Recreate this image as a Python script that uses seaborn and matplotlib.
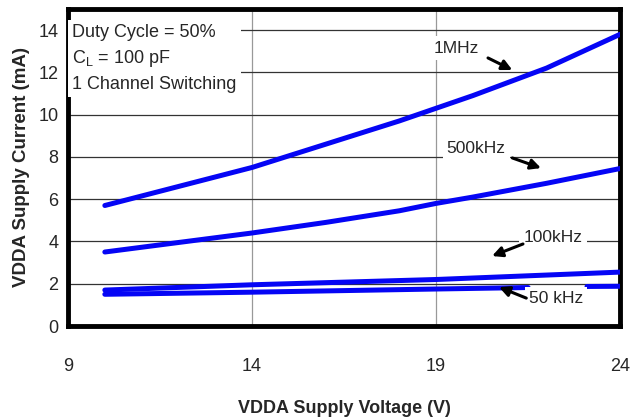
import pandas as pd
import matplotlib.pyplot as plt
import seaborn as sns

# values
volts_1m = [10, 12, 14, 16, 18, 19, 20, 22, 24]
amps_1m = [5.7, 6.6, 7.5, 8.6, 9.7, 10.3, 10.9, 12.2, 13.8]
volts_500k = [10, 12, 14, 16, 18, 19, 20, 22, 24]
amps_500k = [3.5, 3.95, 4.4, 4.9, 5.45, 5.8, 6.1, 6.75, 7.45]
volts_100k = [10, 14, 19, 24]
amps_100k = [1.7, 1.95, 2.2, 2.55]
volts_50k_a = [10, 14, 19, 21.5]
amps_50k_a = [1.5, 1.6, 1.75, 1.82]
volts_50k_b = [23.1, 24]
amps_50k_b = [1.87, 1.88]

x_ticks = [9, 14, 19, 24]
y_ticks = [0, 2, 4, 6, 8, 10, 12, 14]

sns.set_theme(style="white")
plt.rcParams['font.family'] = ['Liberation Sans', 'DejaVu Sans']

fig = plt.figure(figsize=(6.31, 4.2), dpi=100)
ax = fig.add_axes([0.1078, 0.2238, 0.875, 0.755])

blue = "#0505F5"
series = [
    (volts_1m, amps_1m),
    (volts_500k, amps_500k),
    (volts_100k, amps_100k),
    (volts_50k_a, amps_50k_a),
    (volts_50k_b, amps_50k_b),
]
for xs, ys in series:
    df = pd.DataFrame({"v": xs, "i": ys})
    sns.lineplot(data=df, x="v", y="i", ax=ax, color=blue, linewidth=3.6,
                 zorder=3, estimator=None, sort=False)

ax.set_xlim(9, 24)
ax.set_ylim(0, 15)
ax.set_xticks(x_ticks)
ax.set_yticks(y_ticks)
ax.set_xticklabels([str(t) for t in x_ticks], fontsize=13)
ax.set_yticklabels([str(t) for t in y_ticks], fontsize=13)
ax.tick_params(axis="x", direction="out", length=4, width=1, color="#888888", pad=19)
ax.tick_params(axis="y", direction="out", length=4, width=1, color="#555555", pad=3)
ax.yaxis.grid(True, color="#333333", linewidth=0.9)
ax.xaxis.grid(True, color="#999999", linewidth=0.9)
ax.set_axisbelow(True)
for sp in ax.spines.values():
    sp.set_visible(True)
    sp.set_color("black")
    sp.set_linewidth(3.5)

ax.set_xlabel("VDDA Supply Voltage (V)", fontsize=13, fontweight="bold", labelpad=18)
ax.set_ylabel("VDDA Supply Current (mA)", fontsize=13.5, fontweight="bold", labelpad=6)

ax.text(9.12, 14.3, "Duty Cycle = 50%\nC$_\\mathregular{L}$ = 100 pF\n1 Channel Switching",
        fontsize=13, va="top", ha="left", linespacing=1.5,
        bbox=dict(facecolor="white", edgecolor="none", pad=3), zorder=4)

arrow = dict(arrowstyle="-|>", color="black", lw=2.2, mutation_scale=15,
             shrinkA=0, shrinkB=0)
box = dict(facecolor="white", edgecolor="none", pad=3)

labels = [
    ("1MHz", (19.54, 13.15), (20.41, 12.68), (21.07, 12.11)),
    ("500kHz", (20.09, 8.42), (21.07, 7.95), (21.85, 7.47)),
    ("100kHz", (22.18, 4.21), (21.36, 3.88), (20.52, 3.31)),
    ("50 kHz", (22.26, 1.28), (21.45, 1.32), (20.71, 1.84)),
]
for name, txt, tail, head in labels:
    ax.text(txt[0], txt[1], name, fontsize=12.5, ha="center", va="center",
            bbox=box, zorder=4)
    ax.annotate("", xy=head, xytext=tail, arrowprops=arrow, zorder=5)

fig.savefig("out.png", dpi=100)
